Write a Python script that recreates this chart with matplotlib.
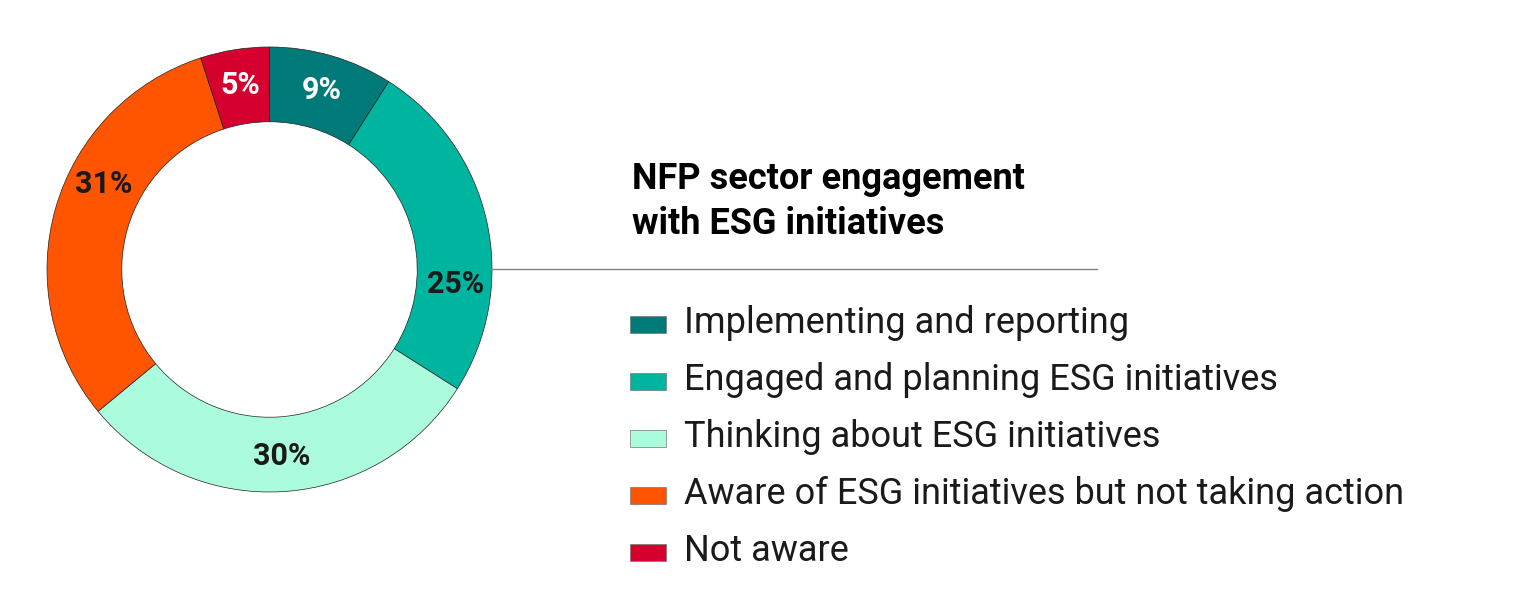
import numpy as np
import matplotlib
matplotlib.use("Agg")
import matplotlib.pyplot as plt
from matplotlib.lines import Line2D
from matplotlib.patches import Rectangle

categories = [
    "Implementing and reporting",
    "Engaged and planning ESG initiatives",
    "Thinking about ESG initiatives",
    "Aware of ESG initiatives but not taking action",
    "Not aware",
]
shares = [9, 25, 30, 31, 5]
colors = ["#007A78", "#00B5A0", "#AAFCDC", "#FF5500", "#D6002F"]
label_colors = ["white", "#1a1a1a", "#1a1a1a", "#1a1a1a", "white"]
title_lines = ["NFP sector engagement", "with ESG initiatives"]

W, H = 1531, 609
FONT = "Roboto"
plt.rcParams["font.family"] = [FONT, "DejaVu Sans"]

fig = plt.figure(figsize=(W / 100, H / 100), dpi=100)

# donut, centre (269.5, 269.5) px, outer radius 222.5 px
cx, cy, r = 269.5, 269.5, 222.5
ax = fig.add_axes([(cx - r) / W, (H - cy - r) / H, 2 * r / W, 2 * r / H])
wedges, _ = ax.pie(shares, colors=colors, startangle=90, counterclock=False,
                   radius=1, wedgeprops=dict(width=0.336, edgecolor="#222222", linewidth=0.5))
ax.set_xlim(-1, 1)
ax.set_ylim(-1, 1)
ax.axis("off")

# label angle nudges (deg) to follow the reference placement
nudge = [0, -17, 0, -11, 0]
for w, v, c, d in zip(wedges, shares, label_colors, nudge):
    ang = np.deg2rad((w.theta1 + w.theta2) / 2 + d)
    ax.text(0.84 * np.cos(ang), 0.84 * np.sin(ang), f"{v}%", ha="center", va="center",
            fontsize=22, fontweight="bold", color=c)

# separator line
fig.add_artist(Line2D([491 / W, 1097 / W], [1 - 269 / H, 1 - 269 / H],
                      color="#808080", linewidth=1))

# title
for i, t in enumerate(title_lines):
    fig.text(632 / W, 1 - (189 + 45 * i) / H, t, fontsize=26, fontweight="bold",
             color="black", ha="left", va="baseline")

# legend
for i, (name, col) in enumerate(zip(categories, colors)):
    base = 333 + 57 * i
    fig.add_artist(Rectangle((630 / W, 1 - base / H), 36 / W, 17 / H, facecolor=col,
                             edgecolor="#777777", linewidth=0.5, transform=fig.transFigure))
    fig.text(684 / W, 1 - base / H, name, fontsize=26, color="#1a1a1a",
             ha="left", va="baseline")

fig.savefig("out.png", dpi=100)
